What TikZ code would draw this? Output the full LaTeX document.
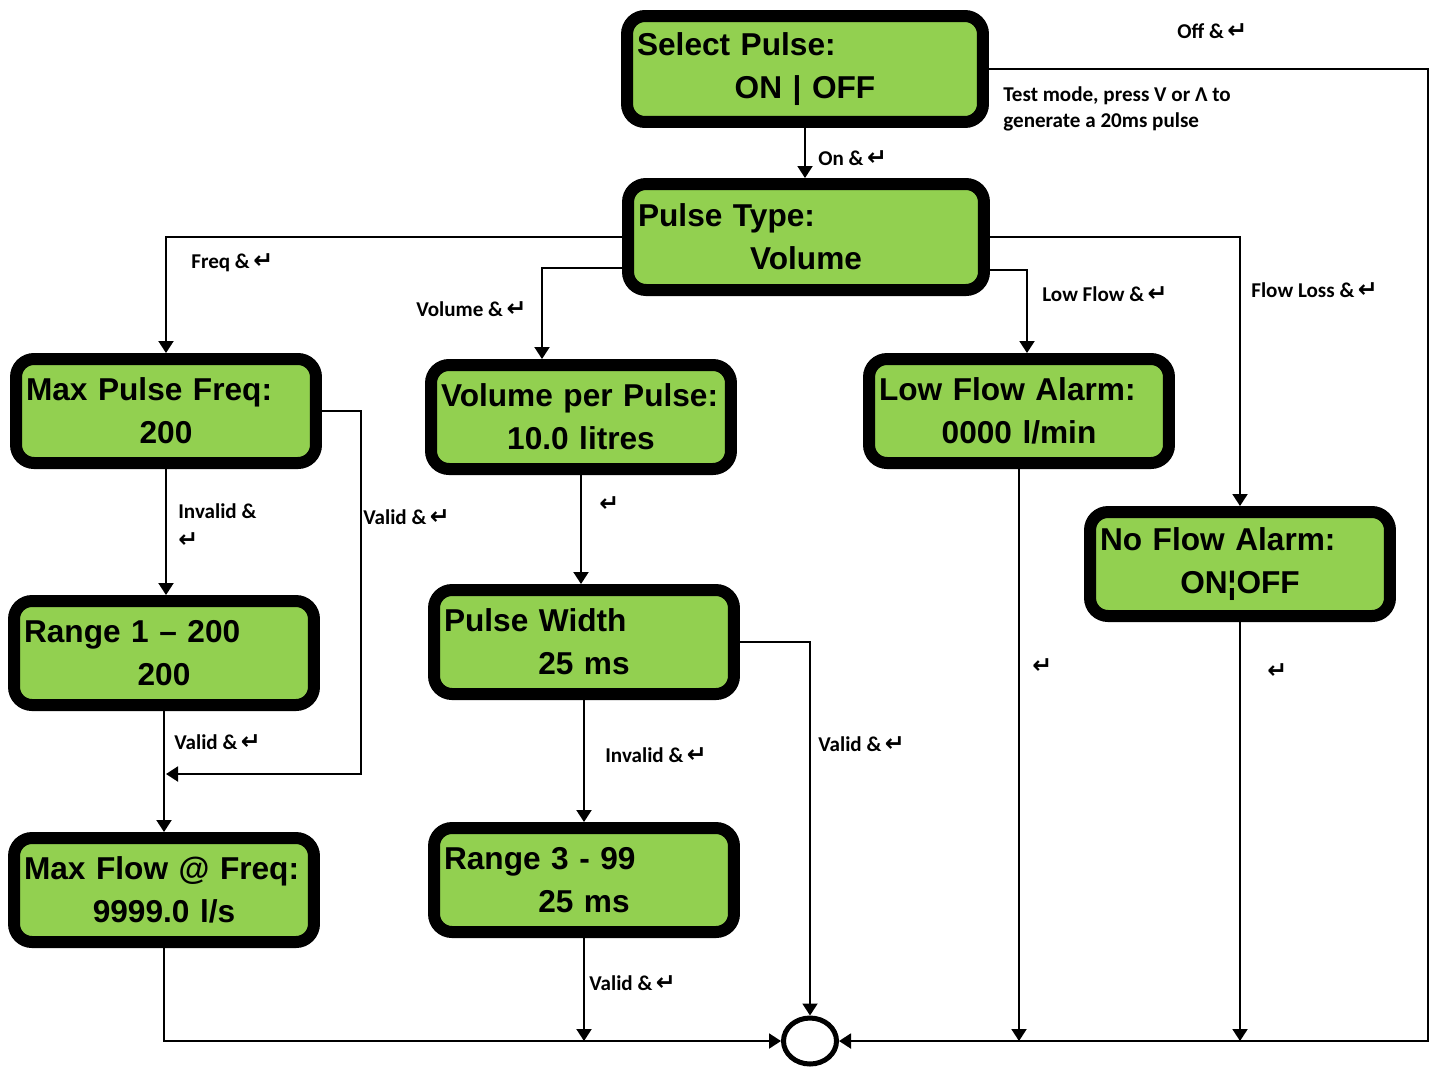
\documentclass[tikz,border=0pt]{standalone}
\usepackage{fontspec}
\setmainfont{Carlito}
\newfontfamily\lcdfont{Liberation Sans}
\newfontfamily\symfont{DejaVu Sans}
\usepackage{tikz}
\usetikzlibrary{arrows.meta,positioning,calc,shapes.geometric}
\definecolor{lcdgreen}{HTML}{92D050}
\newcommand{\ret}{{\symfont\bfseries\fontsize{13.5}{14}\selectfont ↵}}
\newcommand{\lcd}[2]{\raggedright #1\par\centering #2\par}

\begin{document}
\begin{tikzpicture}[
    x=0.02cm,y=-0.02cm,
    lcd/.style   = {rectangle, rounded corners=0.36cm, draw=black, line width=0.24cm,
                    fill=lcdgreen, font=\lcdfont\bfseries\fontsize{18}{24.5}\selectfont,
                    text width=5.6cm, inner xsep=0.2cm, inner ysep=0pt,
                    minimum width=6cm, minimum height=2.08cm},
    lcdw/.style  = {lcd, text width=6.72cm, minimum width=7.12cm, minimum height=2.12cm},
    flow/.style  = {line width=0.04cm, -{Triangle[length=0.24cm,width=0.3cm]}},
    lbl/.style   = {font=\bfseries\fontsize{12}{14.5}\selectfont, anchor=west,
                    inner sep=0pt, align=left},
    fin/.style   = {ellipse, draw=black, line width=0.1cm, fill=white, inner sep=0pt,
                    minimum width=1.06cm, minimum height=0.92cm},
  ]
  \useasboundingbox (0,0) rectangle (1442,1066);

  % ── Écrans ──────────────────────────────────────────────────────────────
  \node[lcdw] (sel)  at (805,69)   {\lcd{Select Pulse:}{ON | OFF}};
  \node[lcdw] (typ)  at (806,237)  {\lcd{Pulse Type:}{Volume}};
  \node[lcd]  (maxf) at (166,411)  {\lcd{Max Pulse Freq:}{200}};
  \node[lcd]  (vpp)  at (581,417)  {\lcd{Volume per Pulse:}{10.0 litres}};
  \node[lcd]  (lowf) at (1019,411) {\lcd{Low Flow Alarm:}{0000 l/min}};
  \node[lcd]  (nof)  at (1240,564) {\lcd{No Flow Alarm:}{ON¦OFF}};
  \node[lcd]  (rng1) at (164,653)  {\lcd{Range 1 – 200}{200}};
  \node[lcd]  (pw)   at (584,642)  {\lcd{Pulse Width}{25 ms}};
  \node[lcd]  (mxfl) at (164,890)  {\lcd{Max Flow @ Freq:}{9999.0 l/s}};
  \node[lcd]  (rng3) at (584,880)  {\lcd{Range 3 - 99}{25 ms}};
  \node[fin]  (end)  at (810,1041) {};

  % ── Points de passage ───────────────────────────────────────────────────
  \coordinate (offc) at (1428,1041);
  \coordinate (mrg)  at (166,774);

  % ── Liaisons ────────────────────────────────────────────────────────────
  \draw[flow] (sel.south) -- (sel.south |- typ.north);
  \draw[flow] (sel.east) -| (offc) -- (end.east);
  \draw[flow] (typ.west) -| (maxf.north);
  \draw[flow] ($(typ.west)+(0,31)$) -| ($(vpp.north)+(-39,0)$);
  \draw[flow] ($(typ.east)+(0,33)$) -| ($(lowf.north)+(8,0)$);
  \draw[flow] (typ.east) -| (nof.north);

  \draw[flow] (maxf.south) -- (maxf.south |- rng1.north);
  \draw[flow] (maxf.east) -- ++(39,0) |- (mrg);
  \draw[flow] (rng1.south) -- (mxfl.north);
  \draw[flow] (mxfl.south) |- (end.west);

  \draw[flow] (vpp.south) -- (vpp.south |- pw.north);
  \draw[flow] (pw.south) -- (rng3.north);
  \draw[flow] (pw.east) -| (end.north);
  \draw[flow] (rng3.south) -- (rng3.south |- end.west);

  \draw[flow] (lowf.south) -- (lowf.south |- end.east);
  \draw[flow] (nof.south) -- (nof.south |- end.east);

  % ── Libellés ────────────────────────────────────────────────────────────
  \node[lbl] (l1)  at (818,158)  {On \&\,\ret};
  \node[lbl] (l2)  at (1177,31)  {Off \&\,\ret};
  \node[lbl] (l3)  at (1003,109) {Test mode, press V or Λ to\\generate a 20ms pulse};
  \node[lbl] (l4)  at (191,263)  {Freq \&\,\ret};
  \node[lbl] (l5)  at (416,309)  {Volume \&\,\ret};
  \node[lbl] (l6)  at (1042,294) {Low Flow \&\,\ret};
  \node[lbl] (l7)  at (1251,290) {Flow Loss \&\,\ret};
  \node[lbl] (l8)  at (178,526)  {Invalid \&\\[2pt]\ret};
  \node[lbl] (l9)  at (363,517)  {Valid \&\,\ret};
  \node[lbl] (l10) at (599,504)  {\ret};
  \node[lbl] (l11) at (174,742)  {Valid \&\,\ret};
  \node[lbl] (l12) at (605,755)  {Invalid \&\,\ret};
  \node[lbl] (l13) at (818,744)  {Valid \&\,\ret};
  \node[lbl] (l14) at (589,983)  {Valid \&\,\ret};
  \node[lbl] (l15) at (1032,666) {\ret};
  \node[lbl] (l16) at (1267,671) {\ret};

\end{tikzpicture}
\end{document}
